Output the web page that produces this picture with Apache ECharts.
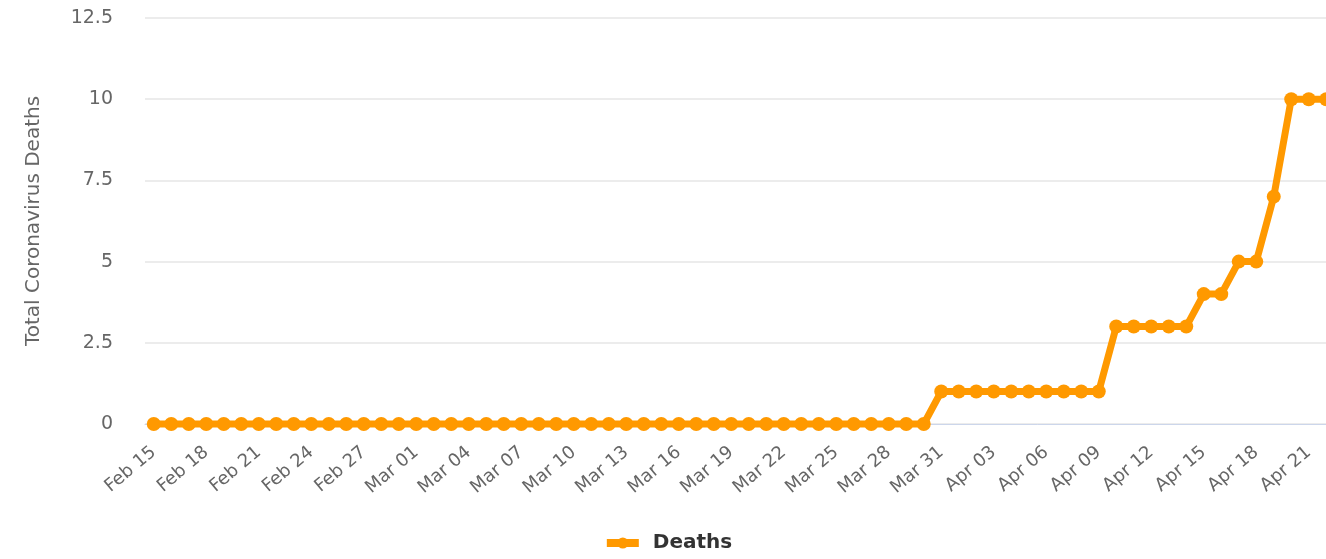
<!DOCTYPE html>
<html>
<head>
<meta charset="utf-8">
<script src="https://cdn.jsdelivr.net/npm/echarts@6/dist/echarts.min.js"></script>
<style>
  html, body { margin: 0; padding: 0; background: #fff; overflow: hidden; }
  /* 原图右侧被裁掉一点，所以画布比窗口略宽 */
  #chart { width: 1335px; height: 559px; }
</style>
</head>
<body>
<div id="chart"></div>
<script>
// 日期（横轴）
var dates = [
  "Feb 15", "Feb 16", "Feb 17", "Feb 18", "Feb 19", "Feb 20", "Feb 21", "Feb 22", "Feb 23",
  "Feb 24", "Feb 25", "Feb 26", "Feb 27", "Feb 28", "Feb 29",
  "Mar 01", "Mar 02", "Mar 03", "Mar 04", "Mar 05", "Mar 06", "Mar 07", "Mar 08", "Mar 09",
  "Mar 10", "Mar 11", "Mar 12", "Mar 13", "Mar 14", "Mar 15", "Mar 16", "Mar 17", "Mar 18",
  "Mar 19", "Mar 20", "Mar 21", "Mar 22", "Mar 23", "Mar 24", "Mar 25", "Mar 26", "Mar 27",
  "Mar 28", "Mar 29", "Mar 30", "Mar 31",
  "Apr 01", "Apr 02", "Apr 03", "Apr 04", "Apr 05", "Apr 06", "Apr 07", "Apr 08", "Apr 09",
  "Apr 10", "Apr 11", "Apr 12", "Apr 13", "Apr 14", "Apr 15", "Apr 16", "Apr 17", "Apr 18",
  "Apr 19", "Apr 20", "Apr 21", "Apr 22"
];
// 累计死亡人数
var deaths = [
  0, 0, 0, 0, 0, 0, 0, 0, 0,
  0, 0, 0, 0, 0, 0,
  0, 0, 0, 0, 0, 0, 0, 0, 0,
  0, 0, 0, 0, 0, 0, 0, 0, 0,
  0, 0, 0, 0, 0, 0, 0, 0, 0,
  0, 0, 0, 1,
  1, 1, 1, 1, 1, 1, 1, 1, 1,
  3, 3, 3, 3, 3, 4, 4, 5, 5,
  7, 10, 10, 10
];
var yTicks = [0, 2.5, 5, 7.5, 10, 12.5];

var myChart = echarts.init(document.getElementById("chart"));
var font = "'DejaVu Sans', Verdana, sans-serif";
var orange = "#ff9900";
myChart.setOption({
  animation: false,
  textStyle: { fontFamily: font },
  grid: {
    left: 145,
    right: 0,
    top: 18,
    bottom: 135,
  },
  legend: {
    bottom: 1,
    left: "center",
    itemWidth: 32,
    itemHeight: 14,
    lineStyle: { width: 8 },
    textStyle: {
      fontFamily: font,
      fontSize: 20,
      fontWeight: "bold",
      color: "#333333",
      padding: [0, 0, 0, 9],
    },
    data: ["Deaths"],
  },
  xAxis: {
    type: "category",
    data: dates,
    boundaryGap: true,
    axisLine: { lineStyle: { color: "#ccd6eb", width: 1 } },
    axisTick: { show: false },
    axisLabel: {
      interval: 2,
      rotate: 40,
      margin: 26,
      color: "#666666",
      fontSize: 18,
      fontFamily: font,
    },
  },
  yAxis: {
    type: "value",
    min: yTicks[0],
    max: yTicks[yTicks.length - 1],
    interval: 2.5,
    name: "Total Coronavirus Deaths",
    nameLocation: "middle",
    nameGap: 101,
    nameTextStyle: { color: "#666666", fontSize: 20, fontFamily: font },
    axisLine: { show: false },
    axisTick: { show: false },
    axisLabel: {
      margin: 32,
      color: "#666666",
      fontSize: 19,
      fontFamily: font,
    },
    splitLine: { lineStyle: { color: "#e6e6e6", width: 1.5 } },
  },
  series: [
    {
      name: "Deaths",
      type: "line",
      data: deaths,
      symbol: "circle",
      symbolSize: 14,
      showAllSymbol: true,
      clip: false,
      lineStyle: { color: orange, width: 7 },
      itemStyle: { color: orange },
    },
  ],
});
</script>
</body>
</html>
